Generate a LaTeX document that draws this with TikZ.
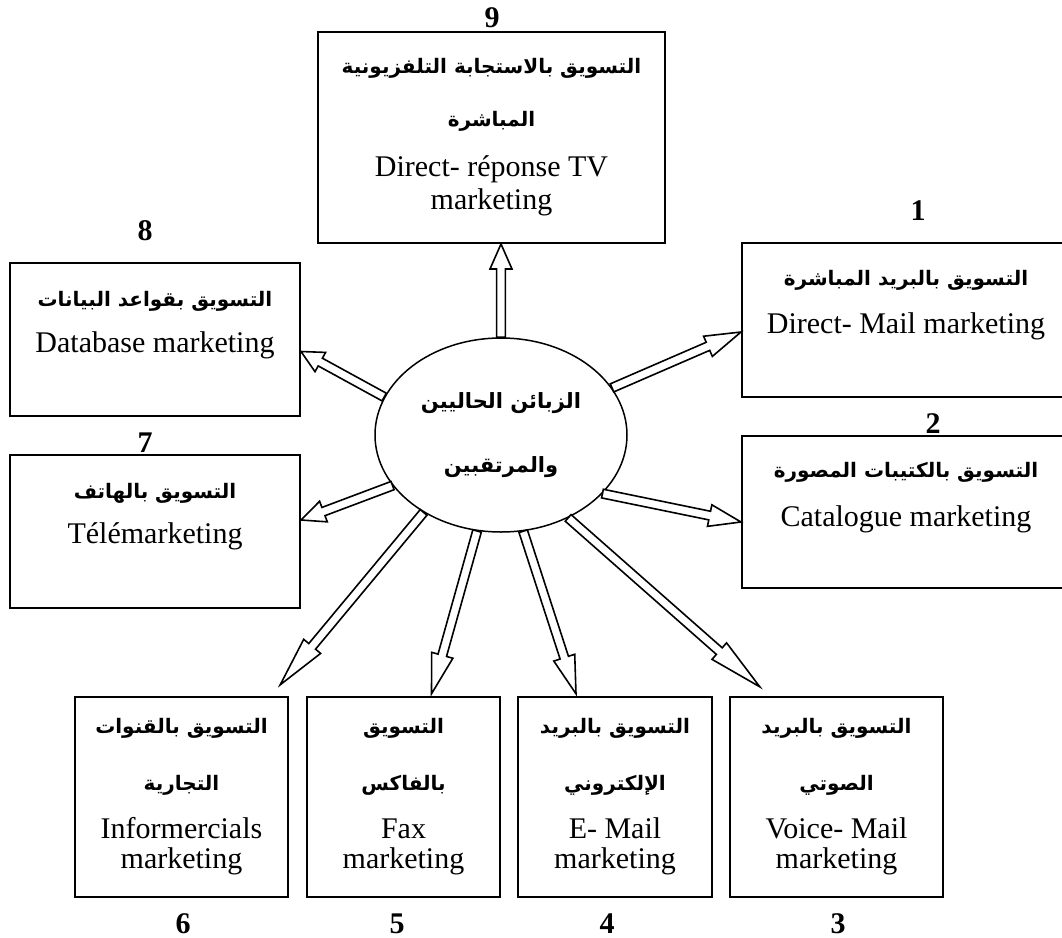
\documentclass[tikz,border=0pt]{standalone}
\usepackage{fontspec}
\setmainfont{Liberation Serif}
\newfontfamily\arabicfont[Script=Arabic]{DejaVu Sans}
\TeXXeTstate=1
\usetikzlibrary{shapes.geometric,calc}
\newcommand\artxt[1]{{\arabicfont\bfseries\fontsize{10}{15.5}\selectfont\beginR #1\endR}}
\newcommand\arbold[1]{{\arabicfont\bfseries\fontsize{10.5}{15.5}\selectfont\beginR #1\endR}}
\tikzset{
  box/.style={draw, line width=1pt, align=center, inner sep=0pt, font=\fontsize{15}{15.5}\selectfont},
  upper/.style={text depth=18pt},
  lower/.style={line width=1.2pt, minimum height=100pt},
  numlabel/.style={inner sep=0pt, font=\fontsize{15}{15}\selectfont\bfseries},
  hollow/.style={draw, fill=white, line width=0.8pt, line join=miter,
    to path={($(\tikztostart)!2.2pt!90:(\tikztotarget)$)
      -- ($(\tikztotarget)!#1!(\tikztostart)!2.2pt!-90:(\tikztostart)$)
      -- ($(\tikztotarget)!#1!(\tikztostart)!5.5pt!-90:(\tikztostart)$)
      -- (\tikztotarget)
      -- ($(\tikztotarget)!#1!(\tikztostart)!5.5pt!90:(\tikztostart)$)
      -- ($(\tikztotarget)!#1!(\tikztostart)!2.2pt!90:(\tikztostart)$)
      -- ($(\tikztostart)!2.2pt!-90:(\tikztotarget)$) -- cycle}},
  hollow/.default=14pt
}
\begin{document}
\begin{tikzpicture}[x=0.5pt, y=-0.5pt]
\useasboundingbox (0,0) rectangle (1062,938);
\clip (0,0) rectangle (1062,938);

% centre
\node[ellipse, draw, line width=0.75pt, minimum width=126pt, minimum height=97pt, inner sep=0pt, align=center,
  font=\fontsize{15}{15.5}\selectfont] (c) at (501,435)
  {\arbold{الزبائن الحاليين}\\[16.5pt]\arbold{والمرتقبين}};

% boxes
\node[box, minimum width=173.5pt, minimum height=105.5pt] (b9) at (491.5,137.5)
  {\artxt{التسويق بالاستجابة التلفزيونية}\\[11pt]\artxt{المباشرة}\\[9.5pt]Direct- réponse TV\\[1pt]marketing};
\node[box, upper, minimum width=164pt, minimum height=77pt] (b1) at (906,320)
  {\artxt{التسويق بالبريد المباشرة}\\[8.5pt]Direct- Mail marketing};
\node[box, upper, minimum width=164pt, minimum height=76pt] (b2) at (906,512)
  {\artxt{التسويق بالكتيبات المصورة}\\[9pt]Catalogue marketing};
\node[box, upper, minimum width=145pt, minimum height=76.5pt] (b8) at (155,339.5)
  {\artxt{التسويق بقواعد البيانات}\\[7.5pt]Database marketing};
\node[box, upper, minimum width=145pt, minimum height=76.5pt] (b7) at (155,531.5)
  {\artxt{التسويق بالهاتف}\\[7pt]Télémarketing};
\node[box, lower, minimum width=106.5pt] (b6) at (181.5,797)
  {\artxt{التسويق بالقنوات}\\[13pt]\artxt{التجارية}\\[8.5pt]Informercials\\[-0.5pt]marketing};
\node[box, lower, minimum width=96.5pt] (b5) at (403.5,797)
  {\artxt{التسويق}\\[13pt]\artxt{بالفاكس}\\[8.5pt]Fax\\[-0.5pt]marketing};
\node[box, lower, minimum width=97pt] (b4) at (615,797)
  {\artxt{التسويق بالبريد}\\[13pt]\artxt{الإلكتروني}\\[8.5pt]E- Mail\\[-0.5pt]marketing};
\node[box, lower, minimum width=106.5pt] (b3) at (836.5,797)
  {\artxt{التسويق بالبريد}\\[13pt]\artxt{الصوتي}\\[8.5pt]Voice- Mail\\[-0.5pt]marketing};

% numbers
\node[numlabel] (n9) at (492,18) {9};
\node[numlabel] (n1) at (918,211) {1};
\node[numlabel] (n2) at (933,424) {2};
\node[numlabel] (n8) at (145,231) {8};
\node[numlabel] (n7) at (145,443) {7};
\node[numlabel] (n6) at (183,924) {6};
\node[numlabel] (n5) at (397,924) {5};
\node[numlabel] (n4) at (607,924) {4};
\node[numlabel] (n3) at (838,924) {3};

% arrows
\draw[hollow=12.5pt] (c.north) to (c.north |- b9.south);
\draw[hollow=18pt] (c.23.3) to ([yshift=-6pt]b1.west);
\draw[hollow=16pt] (c.-30) to ([yshift=-5pt]b2.west);
\draw[hollow=11pt] (c.162.9) to ([yshift=-6pt]b8.east);
\draw[hollow=12pt] (c.205.5) to ([yshift=5.75pt]b7.east);
\draw[hollow=25pt] (c.225.4) to ([xshift=-4.5pt,yshift=5.5pt]b6.north east);
\draw[hollow=20pt] (c.256.4) to ([xshift=14pt,yshift=1pt]b5.north);
\draw[hollow=19pt] (c.283.6) to ([xshift=-19.5pt,yshift=1pt]b4.north);
\draw[hollow=27pt] (c.309.5) to ([xshift=15.5pt,yshift=4.5pt]b3.north west);
\end{tikzpicture}
\end{document}
